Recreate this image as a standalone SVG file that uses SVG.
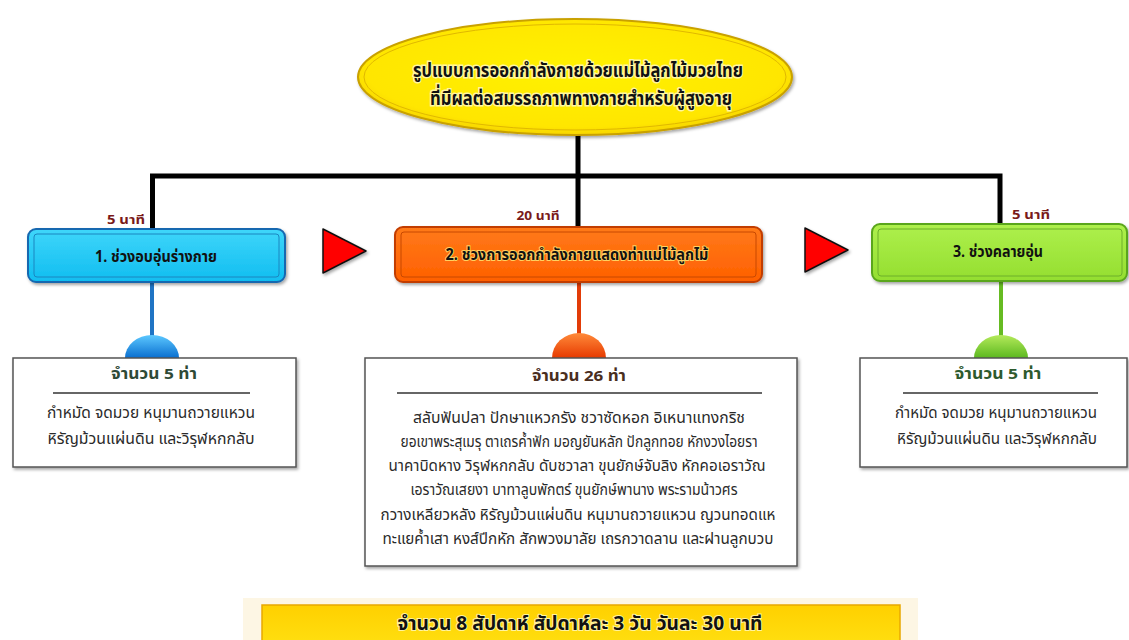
<svg xmlns="http://www.w3.org/2000/svg" width="1129" height="640" viewBox="0 0 1129 640">
<style>
text{font-family:"Noto Sans Thai","Noto Sans","DejaVu Sans",sans-serif;text-anchor:middle}
.ttl{font-size:20px;font-weight:bold;fill:#111;stroke:#fff6a0;stroke-width:3px;paint-order:stroke}
.bx{font-size:16px;font-weight:bold;fill:#111}
.min{font-size:13px;font-weight:bold;fill:#7a1a1a}
.cnt{font-size:15px;font-weight:bold}
.body{font-size:15px;fill:#2a2a2a}
.tbox{fill:#fff;stroke:#555;stroke-width:1.5}
.div{stroke:#666;stroke-width:2}
.conn{stroke:#000;stroke-width:5;fill:none}
.tri{fill:#ff0000;stroke:#111;stroke-width:1.5;stroke-linejoin:round}
</style>
<defs>
<radialGradient id="gEl" cx="50%" cy="45%" r="60%"><stop offset="0" stop-color="#fff200"/><stop offset="0.8" stop-color="#ffe600"/><stop offset="1" stop-color="#f0c800"/></radialGradient>
<linearGradient id="gB1" x1="0" y1="0" x2="0" y2="1"><stop offset="0" stop-color="#3fd6fa"/><stop offset="1" stop-color="#10bdf0"/></linearGradient>
<linearGradient id="gB2" x1="0" y1="0" x2="0" y2="1"><stop offset="0" stop-color="#ff7a1a"/><stop offset="1" stop-color="#ff6000"/></linearGradient>
<linearGradient id="gB3" x1="0" y1="0" x2="0" y2="1"><stop offset="0" stop-color="#aef04c"/><stop offset="1" stop-color="#94de30"/></linearGradient>
<linearGradient id="gD1" x1="0" y1="0" x2="0" y2="1"><stop offset="0" stop-color="#5cc8ff"/><stop offset="1" stop-color="#0a6fd0"/></linearGradient>
<linearGradient id="gD2" x1="0" y1="0" x2="0" y2="1"><stop offset="0" stop-color="#ff8a3a"/><stop offset="1" stop-color="#e63a00"/></linearGradient>
<linearGradient id="gD3" x1="0" y1="0" x2="0" y2="1"><stop offset="0" stop-color="#b4ea5a"/><stop offset="1" stop-color="#5cb820"/></linearGradient>
<linearGradient id="gBan" x1="0" y1="0" x2="0" y2="1"><stop offset="0" stop-color="#ffd000"/><stop offset="1" stop-color="#ffdf10"/></linearGradient>
<filter id="sh" x="-10%" y="-20%" width="120%" height="150%"><feDropShadow dx="1.5" dy="2" stdDeviation="1.5" flood-color="#000" flood-opacity="0.35"/></filter>
</defs>
<rect width="1129" height="640" fill="#fff"/>

<g id="connectors">
<path class="conn" d="M578 132 V176 M152.5 176 H1000 M152.5 173.5 V230 M578 176 V228 M1000 173.5 V225"/>
<line x1="152" y1="282" x2="152" y2="338" stroke="#1f74c4" stroke-width="4"/>
<line x1="579" y1="282" x2="579" y2="334" stroke="#e23c08" stroke-width="4"/>
<line x1="1001" y1="281" x2="1001" y2="336" stroke="#66bb22" stroke-width="4"/>
<polygon class="tri" points="323,229 366,251 323,273" filter="url(#sh)"/>
<polygon class="tri" points="805,228 848,250 805,272" filter="url(#sh)"/>
</g>

<g id="title">
<ellipse cx="575" cy="77" rx="217" ry="58" fill="url(#gEl)" stroke="#c9a100" stroke-width="2" filter="url(#sh)"/>
<ellipse cx="575" cy="77" rx="211" ry="53" fill="none" stroke="#e0b800" stroke-width="1"/>
<text class="ttl" x="578" y="77" textLength="330" lengthAdjust="spacingAndGlyphs">รูปแบบการออกกำลังกายด้วยแม่ไม้ลูกไม้มวยไทย</text>
<text class="ttl" x="581" y="105" textLength="302" lengthAdjust="spacingAndGlyphs">ที่มีผลต่อสมรรถภาพทางกายสำหรับผู้สูงอายุ</text>
</g>

<g id="step1">
<text class="min" x="126" y="224" textLength="38" lengthAdjust="spacingAndGlyphs">5 นาที</text>
<rect x="28" y="229" width="257" height="53" rx="8" fill="url(#gB1)" stroke="#1668b0" stroke-width="2" filter="url(#sh)"/>
<rect x="34" y="234" width="245" height="43" rx="3" fill="none" stroke="#1a86c0" stroke-width="1"/>
<text class="bx" x="156" y="262" textLength="122" lengthAdjust="spacingAndGlyphs">1. ช่วงอบอุ่นร่างกาย</text>
</g>

<g id="step2">
<text class="min" x="538" y="220" textLength="43" lengthAdjust="spacingAndGlyphs">20 นาที</text>
<rect x="395" y="227" width="367" height="55" rx="8" fill="url(#gB2)" stroke="#c23e00" stroke-width="2" filter="url(#sh)"/>
<rect x="401" y="232" width="355" height="45" rx="3" fill="none" stroke="#c84800" stroke-width="1"/>
<text class="bx" x="577" y="260" textLength="263" lengthAdjust="spacingAndGlyphs" style="stroke:#ffd060;stroke-width:2px;paint-order:stroke">2. ช่วงการออกกำลังกายแสดงท่าแม่ไม้ลูกไม้</text>
</g>

<g id="step3">
<text class="min" x="1031" y="219" textLength="38" lengthAdjust="spacingAndGlyphs">5 นาที</text>
<rect x="872" y="224" width="255" height="57" rx="8" fill="url(#gB3)" stroke="#5aa61c" stroke-width="2" filter="url(#sh)"/>
<rect x="878" y="229" width="244" height="47" rx="3" fill="none" stroke="#6cb02a" stroke-width="1"/>
<text class="bx" x="998" y="257" textLength="90" lengthAdjust="spacingAndGlyphs">3. ช่วงคลายอุ่น</text>
</g>

<g id="detail1">
<path d="M125 358 A27 23 0 0 1 179 358 Z" fill="url(#gD1)"/>
<rect class="tbox" x="13" y="358" width="283" height="109" filter="url(#sh)"/>
<text class="cnt" x="154" y="379" fill="#2e4a36" textLength="86" lengthAdjust="spacingAndGlyphs">จำนวน 5 ท่า</text>
<line class="div" x1="53" y1="393" x2="250" y2="393"/>
<text class="body" x="151" y="418" textLength="208" lengthAdjust="spacingAndGlyphs">กำหมัด จดมวย  หนุมานถวายแหวน</text>
<text class="body" x="151" y="444" textLength="207" lengthAdjust="spacingAndGlyphs">หิรัญม้วนแผ่นดิน และวิรุฬหกกลับ</text>
</g>

<g id="detail2">
<path d="M552 358 A27 25 0 0 1 606 358 Z" fill="url(#gD2)"/>
<rect class="tbox" x="365" y="358" width="432" height="208" filter="url(#sh)"/>
<text class="cnt" x="579" y="381" fill="#4a2e1e" textLength="94" lengthAdjust="spacingAndGlyphs">จำนวน 26 ท่า</text>
<line class="div" x1="397" y1="393" x2="762" y2="393"/>
<text class="body" x="579" y="423" textLength="332" lengthAdjust="spacingAndGlyphs">สลับฟันปลา ปักษาแหวกรัง ชวาซัดหอก อิเหนาแทงกริช</text>
<text class="body" x="579" y="447" textLength="357" lengthAdjust="spacingAndGlyphs">ยอเขาพระสุเมรุ ตาเถรค้ำฟัก มอญยันหลัก ปักลูกทอย หักงวงไอยรา</text>
<text class="body" x="577" y="471" textLength="377" lengthAdjust="spacingAndGlyphs">นาคาบิดหาง วิรุฬหกกลับ ดับชวาลา ขุนยักษ์จับลิง หักคอเอราวัณ</text>
<text class="body" x="574" y="495" textLength="327" lengthAdjust="spacingAndGlyphs">เอราวัณเสยงา บาทาลูบพักตร์ ขุนยักษ์พานาง พระรามน้าวศร</text>
<text class="body" x="578" y="520" textLength="395" lengthAdjust="spacingAndGlyphs">กวางเหลียวหลัง หิรัญม้วนแผ่นดิน หนุมานถวายแหวน ญวนทอดแห</text>
<text class="body" x="578" y="544" textLength="391" lengthAdjust="spacingAndGlyphs">ทะแยค้ำเสา หงส์ปีกหัก สักพวงมาลัย เถรกวาดลาน และฝานลูกบวบ</text>
</g>

<g id="detail3">
<path d="M974 358 A27 23 0 0 1 1028 358 Z" fill="url(#gD3)"/>
<rect class="tbox" x="860" y="358" width="267" height="109" filter="url(#sh)"/>
<text class="cnt" x="998" y="379" fill="#2e5a2e" textLength="87" lengthAdjust="spacingAndGlyphs">จำนวน 5 ท่า</text>
<line class="div" x1="903" y1="393" x2="1098" y2="393"/>
<text class="body" x="996" y="418" textLength="202" lengthAdjust="spacingAndGlyphs">กำหมัด จดมวย  หนุมานถวายแหวน</text>
<text class="body" x="997" y="444" textLength="200" lengthAdjust="spacingAndGlyphs">หิรัญม้วนแผ่นดิน และวิรุฬหกกลับ</text>
</g>

<g id="banner">
<rect x="243" y="598" width="675" height="42" fill="#fdf6e4"/>
<rect x="262" y="605" width="638" height="40" fill="url(#gBan)" stroke="#e8a800" stroke-width="1.5"/>
<text x="580" y="630" textLength="365" lengthAdjust="spacingAndGlyphs" style="font-size:19px;font-weight:bold;fill:#111;stroke:#fff3a0;stroke-width:2px;paint-order:stroke">จำนวน 8 สัปดาห์ สัปดาห์ละ 3 วัน วันละ 30 นาที</text>
</g>
</svg>
